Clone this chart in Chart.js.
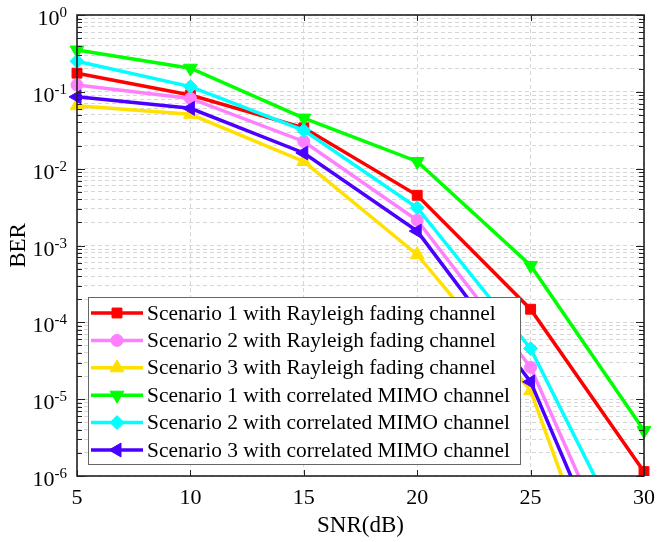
<!DOCTYPE html>
<html>
<head>
<meta charset="utf-8">
<title>BER vs SNR</title>
<script src="https://cdn.jsdelivr.net/npm/chart.js@4.4.0/dist/chart.umd.min.js"></script>
<style>
    html, body { margin: 0; padding: 0; background: #fff; }
    #wrap { width: 664px; height: 542px; position: relative; }
</style>
</head>
<body>
<div id="wrap"><canvas id="berChart"></canvas></div>
<script>
// Dados do gráfico
const snr = [5, 10, 15, 20, 25, 30];
const berRayleigh1 = [0.175, 0.091, 0.034, 0.0045, 1.48e-4, 1.14e-6];
const berRayleigh2 = [0.123, 0.082, 0.0226, 0.00213, 2.6e-5, 1.2e-8];
const berRayleigh3 = [0.066, 0.051, 0.0124, 7.6e-4, 1.29e-5, 1.1e-9];
const berMimo1 = [0.35, 0.203, 0.0455, 0.0124, 5.5e-4, 3.9e-6];
const berMimo2 = [0.25, 0.117, 0.0315, 0.0031, 4.55e-5, 5.2e-8];
const berMimo3 = [0.086, 0.061, 0.016, 0.00154, 1.68e-5, 5.9e-9];

const seriesLabels = [
    'Scenario 1 with Rayleigh fading channel',
    'Scenario 2 with Rayleigh fading channel',
    'Scenario 3 with Rayleigh fading channel',
    'Scenario 1 with correlated MIMO channel',
    'Scenario 2 with correlated MIMO channel',
    'Scenario 3 with correlated MIMO channel'
];
const xTicks = [5, 10, 15, 20, 25, 30];
const yExponents = [0, -1, -2, -3, -4, -5, -6];

const FONT = '"Liberation Serif", "Times New Roman", serif';

const series = [
    { data: berRayleigh1, color: '#ff0000', style: 'rect', radius: 7, rotation: 0 },
    { data: berRayleigh2, color: '#ff80ff', style: 'circle', radius: 6, rotation: 0 },
    { data: berRayleigh3, color: '#ffe000', style: 'triangle', radius: 8, rotation: 0 },
    { data: berMimo1, color: '#00ff00', style: 'triangle', radius: 8, rotation: 180 },
    { data: berMimo2, color: '#00ffff', style: 'rectRot', radius: 7, rotation: 0 },
    { data: berMimo3, color: '#4b00ff', style: 'triangle', radius: 8, rotation: 270 }
];

// Moldura, marcas internas, rótulos do eixo y e legenda
const framePlugin = {
    id: 'framePlugin',
    afterDraw(chart) {
        const ctx = chart.ctx;
        const area = chart.chartArea;
        const xs = chart.scales.x;
        const ys = chart.scales.y;
        ctx.save();

        // marcas (ticks) para dentro
        ctx.strokeStyle = '#222';
        ctx.lineWidth = 1;
        ctx.beginPath();
        xTicks.forEach(v => {
            const px = Math.round(xs.getPixelForValue(v)) + 0.5;
            ctx.moveTo(px, area.bottom); ctx.lineTo(px, area.bottom - 6);
            ctx.moveTo(px, area.top); ctx.lineTo(px, area.top + 6);
        });
        ys.ticks.forEach(t => {
            const major = Math.abs(Math.log10(t.value) - Math.round(Math.log10(t.value))) < 1e-9;
            const len = major ? 8 : 5;
            const py = Math.round(ys.getPixelForValue(t.value)) + 0.5;
            ctx.moveTo(area.left, py); ctx.lineTo(area.left + len, py);
            ctx.moveTo(area.right, py); ctx.lineTo(area.right - len, py);
        });
        ctx.stroke();

        // moldura
        ctx.lineWidth = 1.6;
        ctx.strokeRect(area.left, area.top, area.right - area.left, area.bottom - area.top);

        // rótulos 10^n
        ctx.fillStyle = '#000';
        ctx.textAlign = 'right';
        ctx.textBaseline = 'alphabetic';
        const right = area.left - 10;
        yExponents.forEach(e => {
            const py = ys.getPixelForValue(Math.pow(10, e));
            const expText = String(e);
            ctx.font = '15px ' + FONT;
            const ew = ctx.measureText(expText).width;
            ctx.fillText(expText, right, py + 2);
            ctx.font = '22px ' + FONT;
            ctx.fillText('10', right - ew, py + 10);
        });

        // legenda
        const lx = 88, ly = 297, lw = 432, lh = 167;
        ctx.fillStyle = '#fff';
        ctx.fillRect(lx, ly, lw, lh);
        ctx.strokeStyle = '#666';
        ctx.lineWidth = 1;
        ctx.strokeRect(lx + 0.5, ly + 0.5, lw, lh);
        const rowH = 27.4;
        series.forEach((s, i) => {
            const cy = ly + 16 + i * rowH;
            ctx.strokeStyle = s.color;
            ctx.lineWidth = 3.5;
            ctx.beginPath();
            ctx.moveTo(lx + 3, cy);
            ctx.lineTo(lx + 55, cy);
            ctx.stroke();
            ctx.fillStyle = s.color;
            ctx.lineWidth = 1;
            Chart.helpers.drawPoint(ctx, {
                pointStyle: s.style, radius: s.radius, rotation: s.rotation, borderWidth: 1
            }, lx + 29, cy);
            ctx.fillStyle = '#000';
            ctx.textAlign = 'left';
            ctx.textBaseline = 'middle';
            ctx.font = '21.4px ' + FONT;
            ctx.fillText(seriesLabels[i], lx + 59, cy + 1);
        });
        ctx.restore();
    }
};

const datasets = series.map((s, i) => ({
    label: seriesLabels[i],
    data: snr.map((x, j) => ({ x: x, y: s.data[j] })),
    borderColor: s.color,
    backgroundColor: s.color,
    borderWidth: 3.5,
    pointStyle: s.style,
    pointRadius: s.radius,
    pointRotation: s.rotation,
    pointBackgroundColor: s.color,
    pointBorderColor: s.color,
    pointBorderWidth: 1,
    tension: 0,
    fill: false,
    order: series.length - i,
    clip: { left: 10, right: 10, top: 10, bottom: 0 }
}));

new Chart(document.getElementById('berChart'), {
    type: 'line',
    data: { datasets },
    options: {
        responsive: true,
        maintainAspectRatio: false,
        animation: false,
        layout: { padding: { top: 15, right: 14, left: 0, bottom: 0 } },
        plugins: {
            legend: { display: false },
            tooltip: { enabled: false }
        },
        scales: {
            x: {
                type: 'linear',
                min: 5,
                max: 30,
                afterBuildTicks: scale => { scale.ticks = xTicks.map(v => ({ value: v })); },
                afterFit: scale => { scale.height = 66; },
                ticks: {
                    color: '#000',
                    font: { family: FONT, size: 22 },
                    padding: 9,
                    maxRotation: 0,
                    autoSkip: false
                },
                grid: { color: '#d6d6d6', lineWidth: 1, drawTicks: false },
                border: { display: false, dash: [4, 3] },
                title: {
                    display: true,
                    text: 'SNR(dB)',
                    color: '#000',
                    font: { family: FONT, size: 23 },
                    padding: { top: 0, bottom: 2 }
                }
            },
            y: {
                type: 'logarithmic',
                min: 1e-6,
                max: 1,
                afterBuildTicks: scale => {
                    const ticks = [];
                    for (let e = -6; e <= 0; e++) {
                        for (let k = 1; k <= 9; k++) {
                            const v = k * Math.pow(10, e);
                            if (v <= 1) ticks.push({ value: v });
                        }
                    }
                    scale.ticks = ticks;
                },
                afterFit: scale => { scale.width = 77; },
                ticks: { display: false },
                grid: { color: '#d6d6d6', lineWidth: 1, drawTicks: false },
                border: { display: false, dash: [4, 3] },
                title: {
                    display: true,
                    text: 'BER',
                    color: '#000',
                    font: { family: FONT, size: 23 },
                    padding: { top: 5, bottom: 0 }
                }
            }
        }
    },
    plugins: [framePlugin]
});
</script>
</body>
</html>
